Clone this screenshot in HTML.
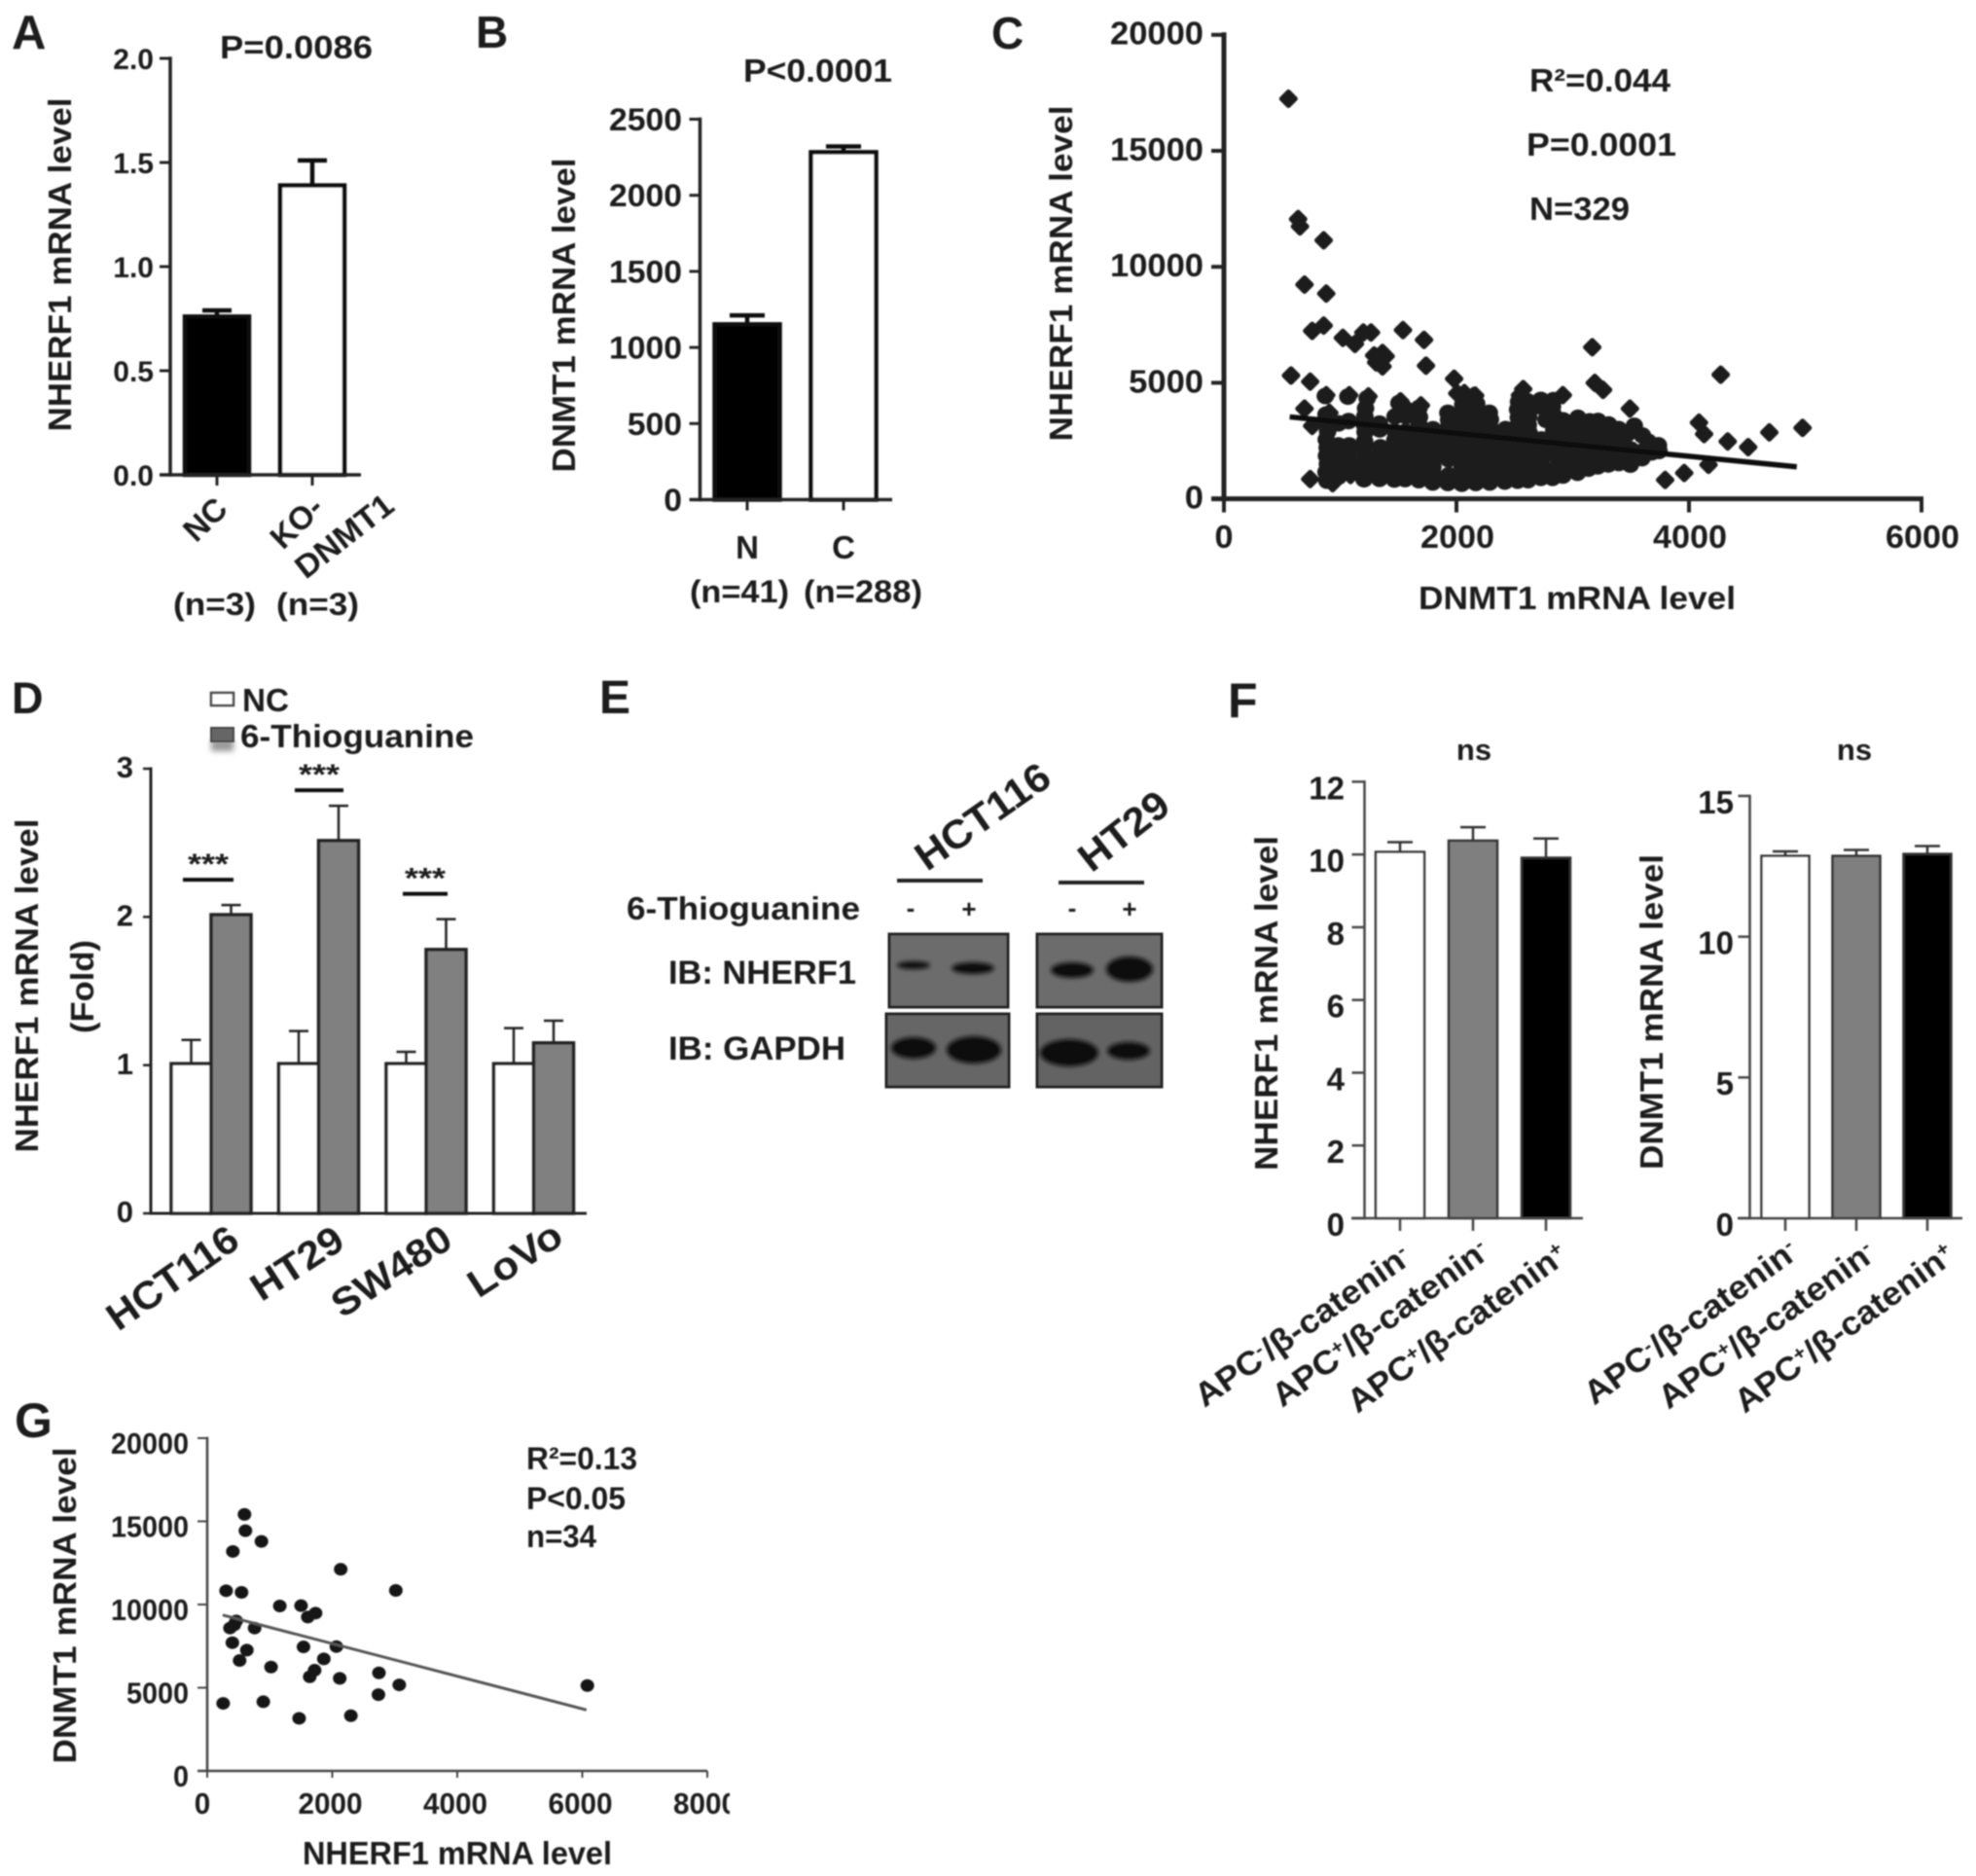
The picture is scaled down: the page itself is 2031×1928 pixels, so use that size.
<!DOCTYPE html>
<html lang="en">
<head>
<meta charset="utf-8">
<title>NHERF1 and DNMT1 mRNA figure</title>
<style>
html,body{margin:0;padding:0;background:#fff}
svg{display:block}
text{font-family:"Liberation Sans",sans-serif;font-weight:bold;fill:#1a1a1a}
</style>
</head>
<body>
<svg id="figure" xmlns="http://www.w3.org/2000/svg" width="2031" height="1928" viewBox="0 0 2031 1928">
<defs>
<filter id="soft" filterUnits="userSpaceOnUse" x="0" y="0" width="2031" height="1928"><feGaussianBlur stdDeviation="0.8"/></filter>
<filter id="bandBlur" x="-40%" y="-80%" width="180%" height="260%"><feGaussianBlur stdDeviation="2.2"/></filter>
<filter id="swatchShadow" x="-40%" y="-100%" width="180%" height="300%"><feGaussianBlur stdDeviation="3"/></filter>
<clipPath id="gClip"><rect x="0" y="1420" width="750" height="508"/></clipPath>
</defs>
<rect width="2031" height="1928" fill="#fff"/>
<g id="root" filter="url(#soft)">

<!-- Panel letters -->
<text x="12" y="50" font-size="49">A</text>
<text x="489" y="49" font-size="46">B</text>
<text x="1019" y="50" font-size="46">C</text>
<text x="12" y="733" font-size="45">D</text>
<text x="616" y="733" font-size="48">E</text>
<text x="1262" y="737" font-size="50">F</text>
<text x="15" y="1477" font-size="50">G</text>

<!-- Panel A text -->
<g id="panelA">
<text x="226" y="60" font-size="33" textLength="157" lengthAdjust="spacingAndGlyphs">P=0.0086</text>
<text transform="translate(62,272) rotate(-90)" y="11" text-anchor="middle" font-size="33" textLength="343" lengthAdjust="spacingAndGlyphs">NHERF1 mRNA level</text>
<text transform="translate(211,534) rotate(-44)" y="11" text-anchor="middle" font-size="33">NC</text>
<text transform="translate(305,537) rotate(-44)" y="11" text-anchor="middle" font-size="33">KO-</text>
<text transform="translate(354,551) rotate(-38)" y="11" text-anchor="middle" font-size="33" textLength="118" lengthAdjust="spacingAndGlyphs">DNMT1</text>
<text x="178" y="632" font-size="32" textLength="85" lengthAdjust="spacingAndGlyphs">(n=3)</text>
<text x="284" y="632" font-size="32" textLength="85" lengthAdjust="spacingAndGlyphs">(n=3)</text>
</g>

<!-- Panel B text -->
<g id="panelB">
<text x="764" y="84" font-size="33" textLength="153" lengthAdjust="spacingAndGlyphs">P&lt;0.0001</text>
<text transform="translate(580,324) rotate(-90)" y="11" text-anchor="middle" font-size="33" textLength="323" lengthAdjust="spacingAndGlyphs">DNMT1 mRNA level</text>
<text x="768" y="574" text-anchor="middle" font-size="33">N</text>
<text x="867" y="574" text-anchor="middle" font-size="33">C</text>
<text x="709" y="619" font-size="32" textLength="102" lengthAdjust="spacingAndGlyphs">(n=41)</text>
<text x="826" y="619" font-size="32" textLength="122" lengthAdjust="spacingAndGlyphs">(n=288)</text>
</g>

<!-- Panel C text -->
<g id="panelC">
<text x="1572" y="94" font-size="33" textLength="145" lengthAdjust="spacingAndGlyphs">R²=0.044</text>
<text x="1569" y="160" font-size="33" textLength="154" lengthAdjust="spacingAndGlyphs">P=0.0001</text>
<text x="1572" y="226" font-size="33" textLength="103" lengthAdjust="spacingAndGlyphs">N=329</text>
<text x="1458" y="626" font-size="33" textLength="326" lengthAdjust="spacingAndGlyphs">DNMT1 mRNA level</text>
<text transform="translate(1091,281) rotate(-90)" y="11" text-anchor="middle" font-size="33" textLength="345" lengthAdjust="spacingAndGlyphs">NHERF1 mRNA level</text>
</g>

<!-- Panel D text -->
<g id="panelD">
<rect x="217" y="760" width="23" height="12" fill="#999" filter="url(#swatchShadow)"/>
<rect x="217" y="712" width="23" height="13" fill="#fff" stroke="#444" stroke-width="2.5"/>
<text x="249" y="731" font-size="33" textLength="48" lengthAdjust="spacingAndGlyphs">NC</text>
<rect x="217" y="748" width="23" height="14" fill="#666" stroke="#444" stroke-width="2"/>
<text x="247" y="768" font-size="33" textLength="240" lengthAdjust="spacingAndGlyphs">6-Thioguanine</text>
<text transform="translate(28,1013) rotate(-90)" y="11" text-anchor="middle" font-size="33" textLength="343" lengthAdjust="spacingAndGlyphs">NHERF1 mRNA level</text>
<text transform="translate(85,1014) rotate(-90)" y="11" text-anchor="middle" font-size="33" textLength="96" lengthAdjust="spacingAndGlyphs">(Fold)</text>
<text transform="translate(177,1313) rotate(-35)" y="14" text-anchor="middle" font-size="40" textLength="155" lengthAdjust="spacingAndGlyphs">HCT116</text>
<text transform="translate(305,1298) rotate(-33)" y="14" text-anchor="middle" font-size="40" textLength="105" lengthAdjust="spacingAndGlyphs">HT29</text>
<text transform="translate(402,1306) rotate(-33)" y="14" text-anchor="middle" font-size="40" textLength="138" lengthAdjust="spacingAndGlyphs">SW480</text>
<text transform="translate(529,1294) rotate(-33)" y="14" text-anchor="middle" font-size="40" textLength="107" lengthAdjust="spacingAndGlyphs">LoVo</text>
</g>

<!-- Panel E blot -->
<g id="panelE">
<text transform="translate(1010,839) rotate(-35)" y="14" text-anchor="middle" font-size="41" textLength="159" lengthAdjust="spacingAndGlyphs">HCT116</text>
<text transform="translate(1155,854) rotate(-38)" y="14" text-anchor="middle" font-size="41" textLength="106" lengthAdjust="spacingAndGlyphs">HT29</text>
<rect x="922" y="903" width="88" height="4" fill="#222"/>
<rect x="1088" y="905" width="88" height="4" fill="#222"/>
<text x="644" y="945" font-size="33" textLength="240" lengthAdjust="spacingAndGlyphs">6-Thioguanine</text>
<text x="936" y="942" text-anchor="middle" font-size="26">-</text>
<text x="996" y="943" text-anchor="middle" font-size="26">+</text>
<text x="1102" y="942" text-anchor="middle" font-size="26">-</text>
<text x="1161" y="943" text-anchor="middle" font-size="26">+</text>
<text x="687" y="1011" font-size="34" textLength="193" lengthAdjust="spacingAndGlyphs">IB: NHERF1</text>
<text x="687" y="1089" font-size="34" textLength="182" lengthAdjust="spacingAndGlyphs">IB: GAPDH</text>
<rect x="914" y="960" width="122" height="75" fill="#6c6c6c" stroke="#222" stroke-width="3"/>
<rect x="1066" y="960" width="128" height="75" fill="#6c6c6c" stroke="#222" stroke-width="3"/>
<rect x="911" y="1042" width="126" height="75" fill="#666" stroke="#222" stroke-width="3"/>
<rect x="1066" y="1042" width="128" height="75" fill="#646464" stroke="#222" stroke-width="3"/>
<g filter="url(#bandBlur)" fill="#0c0c0c">
<ellipse cx="939" cy="992" rx="17" ry="4"/>
<ellipse cx="1000" cy="995" rx="22" ry="6"/>
<ellipse cx="1102" cy="997" rx="22" ry="8"/>
<ellipse cx="1161" cy="996" rx="24" ry="13"/>
<ellipse cx="939" cy="1077" rx="23" ry="11"/>
<ellipse cx="1001" cy="1079" rx="28" ry="14"/>
<ellipse cx="1099" cy="1082" rx="30" ry="14"/>
<ellipse cx="1160" cy="1080" rx="22" ry="9"/>
</g>
</g>

<!-- Panel F text -->
<g id="panelF1">
<text x="1515" y="781" text-anchor="middle" font-size="31">ns</text>
<text transform="translate(1302,1031) rotate(-90)" y="11" text-anchor="middle" font-size="33" textLength="344" lengthAdjust="spacingAndGlyphs">NHERF1 mRNA level</text>
<text transform="translate(1339,1363) rotate(-35)" y="11" text-anchor="middle" font-size="34" textLength="262" lengthAdjust="spacingAndGlyphs">APC<tspan font-size="20" dy="-11">-</tspan><tspan dy="11">/β-catenin</tspan><tspan font-size="20" dy="-11">-</tspan></text>
<text transform="translate(1419,1360) rotate(-36)" y="11" text-anchor="middle" font-size="34" textLength="266" lengthAdjust="spacingAndGlyphs">APC<tspan font-size="20" dy="-11">+</tspan><tspan dy="11">/β-catenin</tspan><tspan font-size="20" dy="-11">-</tspan></text>
<text transform="translate(1498,1365) rotate(-36)" y="11" text-anchor="middle" font-size="34" textLength="270" lengthAdjust="spacingAndGlyphs">APC<tspan font-size="20" dy="-11">+</tspan><tspan dy="11">/β-catenin</tspan><tspan font-size="20" dy="-11">+</tspan></text>
</g>
<g id="panelF2">
<text x="1906" y="781" text-anchor="middle" font-size="31">ns</text>
<text transform="translate(1698,1040) rotate(-90)" y="11" text-anchor="middle" font-size="33" textLength="324" lengthAdjust="spacingAndGlyphs">DNMT1 mRNA level</text>
<text transform="translate(1738,1359) rotate(-36)" y="11" text-anchor="middle" font-size="34" textLength="262" lengthAdjust="spacingAndGlyphs">APC<tspan font-size="20" dy="-11">-</tspan><tspan dy="11">/β-catenin</tspan><tspan font-size="20" dy="-11">-</tspan></text>
<text transform="translate(1816,1362) rotate(-36)" y="11" text-anchor="middle" font-size="34" textLength="266" lengthAdjust="spacingAndGlyphs">APC<tspan font-size="20" dy="-11">+</tspan><tspan dy="11">/β-catenin</tspan><tspan font-size="20" dy="-11">-</tspan></text>
<text transform="translate(1896,1365) rotate(-36)" y="11" text-anchor="middle" font-size="34" textLength="270" lengthAdjust="spacingAndGlyphs">APC<tspan font-size="20" dy="-11">+</tspan><tspan dy="11">/β-catenin</tspan><tspan font-size="20" dy="-11">+</tspan></text>
</g>

<!-- Panel G text -->
<g id="panelG">
<text x="541" y="1510" font-size="32" textLength="114" lengthAdjust="spacingAndGlyphs">R²=0.13</text>
<text x="541" y="1551" font-size="32" textLength="102" lengthAdjust="spacingAndGlyphs">P&lt;0.05</text>
<text x="541" y="1590" font-size="32" textLength="72" lengthAdjust="spacingAndGlyphs">n=34</text>
<text x="311" y="1916" font-size="33" textLength="318" lengthAdjust="spacingAndGlyphs">NHERF1 mRNA level</text>
<text transform="translate(67,1650) rotate(-90)" y="11" text-anchor="middle" font-size="33" textLength="325" lengthAdjust="spacingAndGlyphs">DNMT1 mRNA level</text>
</g>
</g>
</svg>

<script>
// Panel A values
const aMeans = [0.76, 1.39];
const aUpper = [0.79, 1.51];
const aTicks = [0, 0.5, 1, 1.5, 2];
const aTickLabels = ['0.0', '0.5', '1.0', '1.5', '2.0'];

// Panel B values
const bMeans = [1152, 2283];
const bUpper = [1211, 2321];
const bTicks = [0, 500, 1000, 1500, 2000, 2500];
const bTickLabels = ['0', '500', '1000', '1500', '2000', '2500'];

// Panel C values
const cTicksY = [0, 5000, 10000, 15000, 20000];
const cTickLabelsY = ['0', '5000', '10000', '15000', '20000'];
const cTicksX = [0, 2000, 4000, 6000];
const cTickLabelsX = ['0', '2000', '4000', '6000'];
const cFitLine = [[566, 3530], [4927, 1377]];
const cOutliers = [
[555,17246],[638,12056],[654,11740],[858,11140],[693,9232],[880,8843],[759,7237],[858,7467],[1023,6937],[1127,6672],
[1199,7167],[1265,7167],[1540,7273],[1721,6849],[1292,6178],[1364,6284],[1309,5878],[1364,5702],[1391,6143],[1738,5737],
[577,5313],[742,5048],[880,4466],[1078,4466],[1243,4413],[1518,4201],[1694,4025],[1980,5172],[2068,4554],[2161,4448],
[2574,4730],[2546,4466],[2915,4466],[3168,6531],[3190,4995],[3261,4695],[3492,3883],[4273,5349],[4086,3283],[4130,2789],
[4333,2471],[4509,2224],[4691,2860],[4977,3054],[3959,1112],[3795,812],[4168,1465],[693,3883],[907,3707],[759,3142],
[742,847],[935,670],[1089,1024],[2007,4543],[2145,4431]
];
const cCloud = [
[885,780],[878,1150],[890,1500],[882,1850],[888,2200],[880,2550],[892,2900],[884,3200],[878,3630],[872,4431],
[985,950],[992,1280],[988,1620],[996,1960],[984,2300],[986,3250],
[1075,1260],[1082,1600],[1070,1950],[1078,2300],[1072,3350],[1066,4403],
[1205,840],[1212,1180],[1208,1520],[1216,1860],[1204,2200],[1210,2480],[1214,2880],[1206,3220],[1212,3560],[1218,3900],[1232,4333],
[1338,860],[1344,1200],[1336,1540],[1342,1880],[1346,2220],[1340,2990],[1338,3240],
[1466,830],[1472,1170],[1468,1510],[1474,1850],[1464,2190],[1470,2530],[1476,2870],[1472,3550],[1505,4124],
[1558,850],[1562,1190],[1556,1530],[1564,1870],[1560,2210],[1554,2550],[1562,2890],[1566,3560],[1560,3880],
[1676,800],[1684,1140],[1678,1480],[1682,1820],[1674,2160],[1680,2500],[1686,2840],[1678,3180],[1682,3520],[1678,3914],
[1796,700],[1804,1040],[1798,1380],[1802,1720],[1794,2060],[1800,2400],[1806,2740],[1798,3000],
[1926,680],[1934,1020],[1932,1700],[1924,2040],[1930,2380],[1936,2720],[1928,3060],[1932,3400],[1926,3705],
[2046,650],[2054,990],[2048,1330],[2052,1670],[2044,2010],[2050,2350],[2056,2690],[2048,3030],[2052,3370],[2046,3700],[2054,4050],
[2166,680],[2174,1020],[2168,1360],[2172,1700],[2164,2040],[2170,2380],[2176,2720],[2168,3060],[2172,3400],[2166,3750],[2174,4100],
[2286,700],[2294,1040],[2288,1380],[2292,1720],[2284,2060],[2290,2400],[2296,2740],[2288,3080],[2292,3420],[2283,3705],
[2416,740],[2424,1080],[2418,1420],[2422,1760],[2414,2100],[2420,2440],[2426,2780],[2422,3005],
[2526,780],[2534,1120],[2528,1460],[2532,1800],[2524,2140],[2530,2480],[2536,2820],[2528,3160],[2532,3500],[2526,3840],[2534,4180],
[2616,800],[2624,1140],[2618,1480],[2622,1820],[2614,2160],[2620,2500],[2626,2840],[2618,3180],[2622,3520],[2616,3860],[2612,4200],
[2726,900],[2734,1240],[2728,1580],[2732,1920],[2724,2260],[2730,2560],[2770,3400],[2732,3960],[2726,4264],
[2826,900],[2834,1240],[2832,1920],[2824,2260],[2830,2600],[2836,2940],[2828,3300],[2832,3640],[2826,3980],[2834,4250],
[2916,1000],[2924,1340],[2918,1680],[2922,2020],[2914,2360],[2920,2700],[2926,3040],[2918,3380],
[3041,1120],[3049,1460],[3043,1800],[3047,2140],[3039,2480],[3045,2820],[3051,3160],[3045,3490],
[3136,1300],[3144,1640],[3138,1980],[3134,2660],[3140,3000],[3146,3340],
[3216,1400],[3224,1740],[3218,2080],[3222,2420],[3214,2760],[3220,3100],[3218,3355],
[3306,1480],[3314,1820],[3308,2160],[3312,2500],[3304,2840],[3310,3200],
[3396,1540],[3404,1880],[3398,2220],[3402,2560],[3396,3005],
[3496,1470],[3504,1810],[3498,2130],[3530,3145],[3470,2800],
[3596,1750],[3604,2050],[3600,2726],[3650,2460],
[3680,2000],[3686,2300],[3737,2307],[3742,2060]
];

// Panel D values
const dControl = [1.01, 1.01, 1.01, 1.01];
const dControlUpper = [1.17, 1.23, 1.09, 1.25];
const dTreated = [2.015, 2.515, 1.78, 1.15];
const dTreatedUpper = [2.08, 2.75, 1.985, 1.30];
const dTicks = [0, 1, 2, 3];
const dTickLabels = ['0', '1', '2', '3'];

// Panel F values
const f1Means = [10.07, 10.38, 9.91];
const f1Upper = [10.34, 10.75, 10.44];
const f1Ticks = [0, 2, 4, 6, 8, 10, 12];
const f1TickLabels = ['0', '2', '4', '6', '8', '10', '12'];
const f2Means = [12.87, 12.87, 12.94];
const f2Upper = [13.03, 13.08, 13.22];
const f2Ticks = [0, 5, 10, 15];
const f2TickLabels = ['0', '5', '10', '15'];

// Panel G values
const gTicksY = [0, 5000, 10000, 15000, 20000];
const gTickLabelsY = ['0', '5000', '10000', '15000', '20000'];
const gTicksX = [0, 2000, 4000, 6000, 8000];
const gTickLabelsX = ['0', '2000', '4000', '6000', '8000'];
const gPoints = [
[596,15415],[611,14439],[867,13795],[410,13190],[302,10829],[549,10732],[2135,12117],[3017,10849],[1161,9912],[1501,9932],
[1609,9249],[1733,9483],[464,9015],[364,8585],[758,8585],[402,7707],[634,7259],[518,6634],[1540,7454],[2066,7473],
[1865,6732],[1021,6244],[1718,6049],[1640,5659],[2120,5561],[2747,5893],[3072,5171],[6081,5132],[2739,4585],[897,4156],
[255,4059],[1470,3161],[2298,3317],[433,8780]
];
const gFitLine = [[248, 9366], [6066, 3668]];

const NS = 'http://www.w3.org/2000/svg';
function node(tag, attrs, parent) {
  const el = document.createElementNS(NS, tag);
  for (const k in attrs) el.setAttribute(k, attrs[k]);
  parent.appendChild(el);
  return el;
}
function linear(d0, d1, r0, r1) {
  return function (v) { return r0 + (v - d0) * (r1 - r0) / (d1 - d0); };
}
function label(parent, str, x, cy, size, anchor, charW) {
  const t = node('text', { x: x, y: cy + size * 0.36, 'font-size': size, 'text-anchor': anchor }, parent);
  t.textContent = str;
  if (charW) {
    t.setAttribute('textLength', str.length * charW);
    t.setAttribute('lengthAdjust', 'spacingAndGlyphs');
  }
  return t;
}
function yAxis(g, sc, ticks, labels, o) {
  const axis = node('line', { x1: o.x, x2: o.x, y1: sc(ticks[ticks.length - 1]) - o.sw / 2, y2: sc(ticks[0]) + o.sw / 2, stroke: o.color, 'stroke-width': o.sw }, g);
  
  
  ticks.forEach(function (v, i) {
    const tick = node('line', { x1: o.x - o.len, x2: o.x, y1: sc(v), y2: sc(v), stroke: o.color, 'stroke-width': o.tickW }, g);
    
    
    const t = label(g, labels[i], o.labelX, sc(v) + o.dy, o.size, 'end', o.charW);
    
    
  });
}
function xBaseline(g, x1, x2, y, color, sw) {
  const axis = node('line', { x1: x1, x2: x2, y1: y, y2: y, stroke: color, 'stroke-width': sw }, g);
  
  
}
function xTick(g, x, y, len, color, sw) {
  const tick = node('line', { x1: x, x2: x, y1: y, y2: y + len, stroke: color, 'stroke-width': sw }, g);
  
  
}
function bar(g, cx, w, sc, value, upper, fill, o) {
  const base = sc(0);
  const top = sc(value);
  const up = sc(upper);
  const stem = node('line', { x1: cx, x2: cx, y1: top, y2: up, stroke: o.stroke, 'stroke-width': o.errW }, g);
  
  
  const cap = node('line', { x1: cx - o.cap, x2: cx + o.cap, y1: up, y2: up, stroke: o.stroke, 'stroke-width': o.errW }, g);
  
  
  const rect = node('rect', { x: cx - w / 2, y: top, width: w, height: Math.max(0, base - top), fill: fill, stroke: o.stroke, 'stroke-width': o.sw }, g);
  
  
}
function fitLine(g, pts, sx, sy, color, sw) {
  const line = node('line', { x1: sx(pts[0][0]), y1: sy(pts[0][1]), x2: sx(pts[1][0]), y2: sy(pts[1][1]), stroke: color, 'stroke-width': sw }, g);
  
  
}
function dot(g, cx, cy, rx, ry, fill) {
  const c = node('ellipse', { cx: cx, cy: cy, rx: rx, ry: ry, fill: fill }, g);
  
  
}
function diamond(g, cx, cy, r, fill) {
  const pts = [cx - r, cy, cx, cy - r, cx + r, cy, cx, cy + r].join(' ');
  const d = node('polygon', { points: pts, fill: fill, stroke: fill, 'stroke-width': 5, 'stroke-linejoin': 'round' }, g);
  
  
}

// ---------- Panel A
(function () {
  const g = document.getElementById('panelA');
  const y = linear(0, 2, 488, 60);
  const fills = ['#000', '#fff'];
  aMeans.forEach(function (v, i) {
    bar(g, 223 + i * 98, 66, y, v, aUpper[i], fills[i], { stroke: '#111', sw: 4.5, errW: 4.5, cap: 15 });
    xTick(g, 223 + i * 98, 488, 11, '#222', 3);
  });
  yAxis(g, y, aTicks, aTickLabels, { x: 175, len: 11, sw: 3.5, tickW: 3, color: '#222', labelX: 158, dy: 0, size: 30 });
  xBaseline(g, 164, 371, 488, '#222', 3.5);
})();

// ---------- Panel B
(function () {
  const g = document.getElementById('panelB');
  const y = linear(0, 2500, 513.5, 122.5);
  const fills = ['#000', '#fff'];
  bMeans.forEach(function (v, i) {
    bar(g, 768 + i * 99, 67, y, v, bUpper[i], fills[i], { stroke: '#111', sw: 4.5, errW: 4.5, cap: 18 });
    xTick(g, 768 + i * 99, 513.5, 11, '#222', 3);
  });
  yAxis(g, y, bTicks, bTickLabels, { x: 719.5, len: 11, sw: 3.5, tickW: 3, color: '#222', labelX: 701, dy: 0, size: 32, charW: 18.75 });
  xBaseline(g, 709, 917, 513.5, '#222', 3.5);
})();

// ---------- Panel C
(function () {
  const g = document.getElementById('panelC');
  const x = linear(0, 6000, 1258, 1975);
  const y = linear(0, 20000, 512.6, 35.8);
  cCloud.forEach(function (p) { dot(g, x(p[0]), y(p[1]), 9, 8.5, '#1b1b1b'); });
  cOutliers.forEach(function (p) { diamond(g, x(p[0]), y(p[1]), 7, '#1b1b1b'); });
  fitLine(g, cFitLine, x, y, '#0a0a0a', 5.5);
  yAxis(g, y, cTicksY, cTickLabelsY, { x: 1258, len: 13, sw: 5, tickW: 4, color: '#222', labelX: 1237, dy: -2, size: 33, charW: 19.2 });
  xBaseline(g, 1245, 1977, 512.6, '#222', 5);
  cTicksX.forEach(function (v, i) {
    xTick(g, x(v), 512.6, 14, '#222', 4);
    const t = label(g, cTickLabelsX[i], x(v) + (i === 0 ? 0 : 1), 551, 33, 'middle', 19);
    
    
  });
})();

// ---------- Panel D
(function () {
  const g = document.getElementById('panelD');
  const y = linear(0, 3, 1247, 790);
  dControl.forEach(function (v, i) {
    const cx = 196.5 + i * 110.5;
    bar(g, cx, 41, y, v, dControlUpper[i], '#fff', { stroke: '#222', sw: 3.5, errW: 2.5, cap: 10 });
    bar(g, cx + 41, 41, y, dTreated[i], dTreatedUpper[i], '#808080', { stroke: '#222', sw: 3.5, errW: 2.5, cap: 10 });
  });
  yAxis(g, y, dTicks, dTickLabels, { x: 155, len: 8, sw: 3, tickW: 2.5, color: '#222', labelX: 137, dy: -2, size: 31 });
  xBaseline(g, 154, 603, 1247, '#222', 3);
  const sig = [[188, 240, 0], [303, 353, 1], [414, 460, 2]];
  sig.forEach(function (s) {
    const cx = (s[0] + s[1]) / 2;
    const barY = y(dTreatedUpper[s[2]]) + (s[2] === 0 ? -26 : s[2] === 1 ? -16 : -26);
    const line = node('line', { x1: s[0], x2: s[1], y1: barY, y2: barY, stroke: '#111', 'stroke-width': 4 }, g);
    
    
    const t = node('text', { x: cx, y: barY - 6, 'font-size': 30, 'text-anchor': 'middle', textLength: 42, lengthAdjust: 'spacingAndGlyphs' }, g);
    t.textContent = '***';
    
    
  });
})();

// ---------- Panel F left
(function () {
  const g = document.getElementById('panelF1');
  const y = linear(0, 12, 1252, 803.4);
  const fills = ['#fff', '#7f7f7f', '#000'];
  f1Means.forEach(function (v, i) {
    bar(g, 1439 + i * 75, 50, y, v, f1Upper[i], fills[i], { stroke: '#333', sw: 2.5, errW: 2.5, cap: 13 });
    xTick(g, 1439 + i * 75, 1252, 13, '#444', 2.5);
  });
  yAxis(g, y, f1Ticks, f1TickLabels, { x: 1402.5, len: 13, sw: 2.5, tickW: 2.5, color: '#444', labelX: 1382, dy: 6, size: 33 });
  xBaseline(g, 1389, 1627, 1252, '#444', 2.5);
})();

// ---------- Panel F right
(function () {
  const g = document.getElementById('panelF2');
  const y = linear(0, 15, 1252, 818);
  const fills = ['#fff', '#7f7f7f', '#000'];
  f2Means.forEach(function (v, i) {
    bar(g, 1835 + i * 73, 49, y, v, f2Upper[i], fills[i], { stroke: '#333', sw: 2.5, errW: 2.5, cap: 13 });
    xTick(g, 1835 + i * 73, 1252, 13, '#444', 2.5);
  });
  yAxis(g, y, f2Ticks, f2TickLabels, { x: 1798.5, len: 12, sw: 2.5, tickW: 2.5, color: '#444', labelX: 1782, dy: 6, size: 33 });
  xBaseline(g, 1786, 2017, 1252, '#444', 2.5);
})();

// ---------- Panel G
(function () {
  const g = document.getElementById('panelG');
  const x = linear(0, 8000, 213, 727);
  const y = linear(0, 20000, 1820, 1478);
  gPoints.forEach(function (p) { dot(g, x(p[0]), y(p[1]), 7, 6.5, '#181818'); });
  fitLine(g, gFitLine, x, y, '#555', 3);
  yAxis(g, y, gTicksY, gTickLabelsY, { x: 213, len: 10, sw: 2.5, tickW: 2, color: '#444', labelX: 194, dy: 5, size: 31, charW: 16 });
  xBaseline(g, 203, 727, 1820, '#444', 2.5);
  const clip = node('g', { 'clip-path': 'url(#gClip)' }, g);
  
  
  gTicksX.forEach(function (v, i) {
    xTick(g, x(v), 1820, 7, '#444', 2);
    const t = label(clip, gTickLabelsX[i], i === 0 ? x(v) - 5 : x(v) - 2, 1853, 31, 'middle', 16.5);
    
    
  });
})();
</script>
</body>
</html>
